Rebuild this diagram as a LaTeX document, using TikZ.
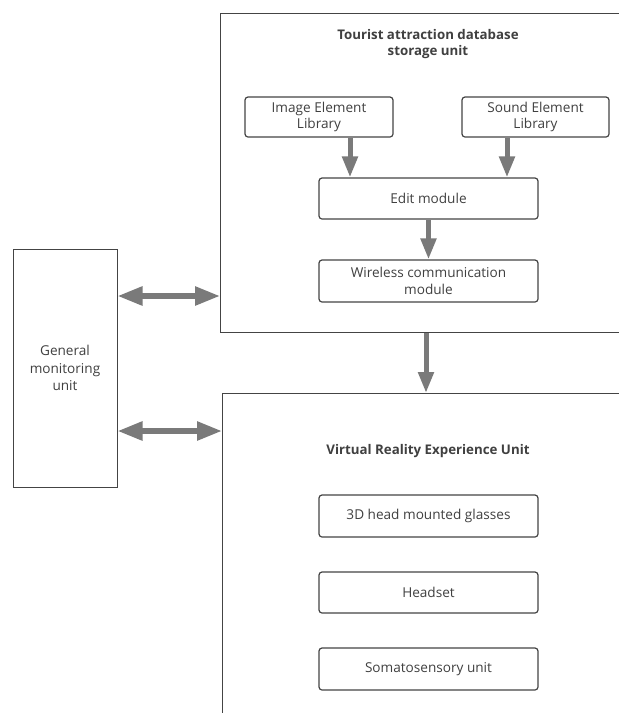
\documentclass[tikz,border=0pt]{standalone}
\usepackage{fontspec}
\setmainfont{Open Sans}
\usetikzlibrary{arrows.meta}
\definecolor{edge}{HTML}{444444}
\definecolor{ink}{HTML}{404040}
\definecolor{flow}{HTML}{7A7A7A}
\tikzset{
  unit/.style={draw=edge, line width=1.3pt, inner sep=0pt, anchor=north west},
  module/.style={draw=edge, line width=1.2pt, rounded corners=3pt, inner sep=0pt,
    text=ink, align=center, font=\fontsize{13.6}{16.5}\selectfont},
  heading/.style={text=ink, align=center, font=\fontsize{13.3}{16}\selectfont\bfseries},
  plain/.style={text=ink, align=center, font=\fontsize{13.6}{17.5}\selectfont},
  down/.style={draw=flow, line width=5pt, -{Triangle[width=15pt,length=21pt]}},
  both/.style={draw=flow, line width=5.5pt, {Triangle[width=18pt,length=25pt]}-{Triangle[width=18pt,length=25pt]}}
}
\begin{document}
\begin{tikzpicture}[x=1pt, y=-1pt]
\useasboundingbox (0,0) rectangle (619,713);
\clip (0,0) rectangle (619,713);
\fill[white] (0,0) rectangle (619,713);

% storage unit frame and contents
\node[unit, minimum width=430pt, minimum height=319pt] (db) at (220,13) {};
\node[heading] (dbt) at (428,44) {Tourist attraction database\\storage unit};
\node[module, minimum width=148pt, minimum height=40pt] (img) at (319,117) {Image Element\\Library};
\node[module, minimum width=147pt, minimum height=40pt] (snd) at (535.5,117) {Sound Element\\Library};
\node[module, minimum width=219pt, minimum height=41pt] (edit) at (428.5,198.5) {Edit module};
\node[module, minimum width=219pt, minimum height=42pt] (wire) at (428.5,281) {Wireless communication\\module};

% experience unit frame and contents
\node[unit, minimum width=430pt, minimum height=340pt] (vr) at (222,393) {};
\node[heading] (vrt) at (428,451) {Virtual Reality Experience Unit};
\node[module, minimum width=219pt, minimum height=42pt] (glass) at (428.5,516) {3D head mounted glasses};
\node[module, minimum width=219pt, minimum height=41pt] (head) at (428.5,592.5) {Headset};
\node[module, minimum width=219pt, minimum height=42pt] (soma) at (428.5,669) {Somatosensory unit};

% monitoring unit
\node[draw=edge, line width=1pt, minimum width=104pt, minimum height=238pt, inner sep=0pt] (gm) at (65,368) {};
\node[plain] (gmt) at (65,368) {General\\monitoring\\unit};

% flows inside the storage unit
\coordinate (ix) at (350,0);
\coordinate (sx) at (507,0);
\draw[down] (img.south -| ix) -- (edit.north -| ix);
\draw[down] (snd.south -| sx) -- (edit.north -| sx);
\draw[down] (edit) -- (wire);

% storage unit to experience unit
\coordinate (mx) at (426,0);
\draw[down] (db.south -| mx) -- (vr.north -| mx);

% monitoring links
\coordinate (l1) at (0,296);
\coordinate (l2) at (0,431);
\draw[both] (gm.east |- l1) -- (db.west |- l1);
\draw[both] (gm.east |- l2) -- (vr.west |- l2);
\end{tikzpicture}
\end{document}
